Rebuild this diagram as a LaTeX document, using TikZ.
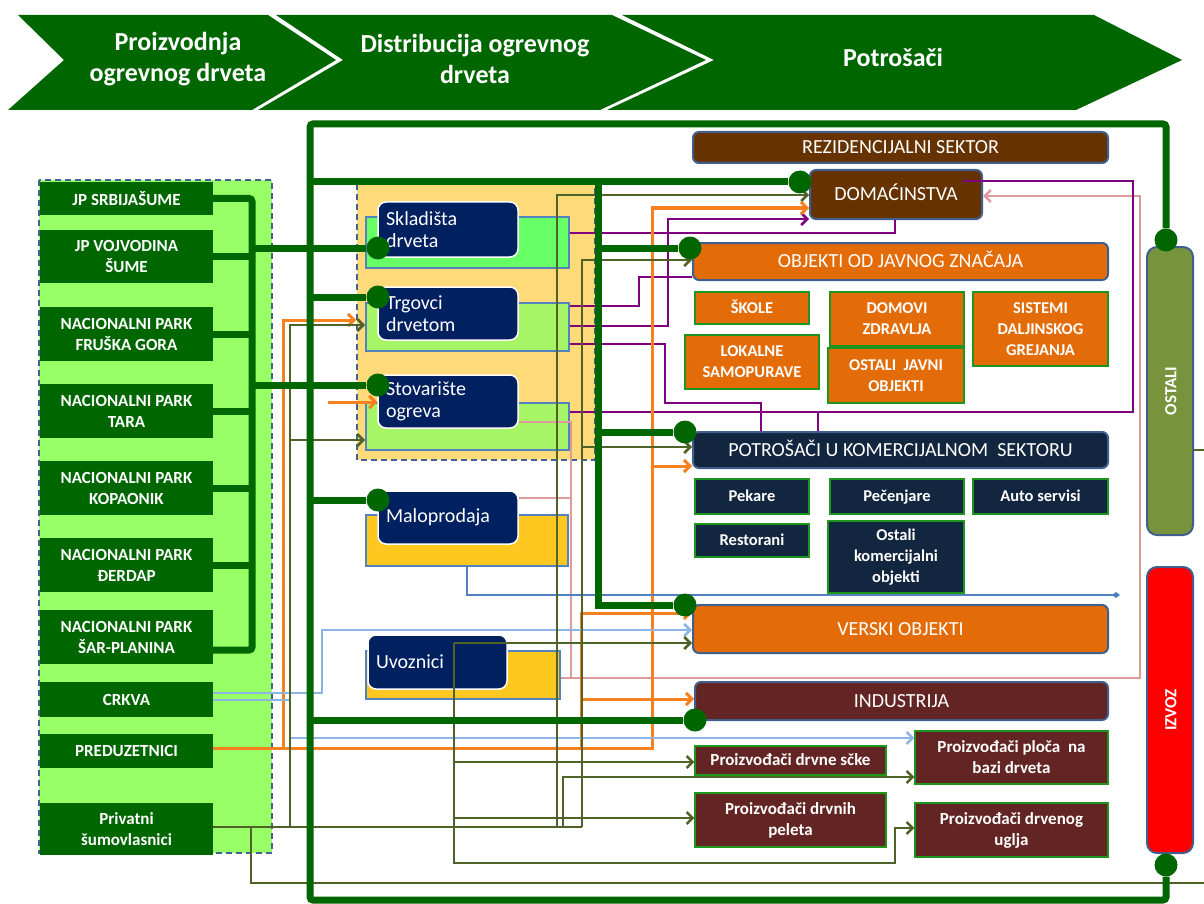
\documentclass[tikz,border=0pt]{standalone}
\usepackage{fontspec}
\setmainfont{Carlito}
\usetikzlibrary{arrows.meta}

\definecolor{hdgreen}{RGB}{0,102,0}
\definecolor{panelgreen}{RGB}{153,255,102}
\definecolor{dashblue}{RGB}{68,97,150}
\definecolor{panelyellow}{RGB}{255,218,120}
\definecolor{brightgreen}{RGB}{102,255,102}
\definecolor{limegreen}{RGB}{166,245,102}
\definecolor{boxblue}{RGB}{84,130,190}
\definecolor{navybox}{RGB}{0,32,96}
\definecolor{goldbox}{RGB}{255,200,32}
\definecolor{resbrown}{RGB}{102,51,0}
\definecolor{puborange}{RGB}{227,108,9}
\definecolor{comnavy}{RGB}{19,38,64}
\definecolor{indred}{RGB}{99,37,35}
\definecolor{ostgreen}{RGB}{119,147,60}
\definecolor{olivew}{RGB}{79,98,40}
\definecolor{purplew}{RGB}{128,0,128}
\definecolor{orangew}{RGB}{247,128,31}
\definecolor{pinkw}{RGB}{222,154,154}
\definecolor{skyw}{RGB}{141,180,226}
\definecolor{steelw}{RGB}{79,129,189}
\definecolor{unitborder}{RGB}{30,150,30}
\definecolor{framebl}{RGB}{65,95,140}

\tikzset{
  >={Straight Barb[length=6pt,width=12pt]},
  stage/.style={text=white, font=\fontsize{26}{31}\selectfont\bfseries, align=center},
  srcbox/.style={fill=hdgreen, text=white, font=\fontsize{17}{21}\selectfont\bfseries,
    align=center, minimum width=173pt, inner sep=0pt},
  storebox/.style={draw=boxblue, line width=2pt, inner sep=0pt},
  traderbox/.style={fill=navybox, draw=white, line width=1.5pt, rounded corners=8pt,
    text=white, font=\fontsize{20}{22}\selectfont, align=left, inner xsep=8pt, inner ysep=0pt},
  sector/.style={draw=framebl, line width=2pt, rounded corners=6pt, text=white,
    font=\fontsize{20}{22}\selectfont, inner sep=0pt, text height=12.5pt, text depth=0pt},
  unit/.style={draw=unitborder, line width=1.2pt, text=white,
    font=\fontsize{16.5}{21}\selectfont\bfseries, align=center, inner sep=0pt},
  unitb/.style={unit, font=\fontsize{16.5}{21}\selectfont\bfseries},
  oneline/.style={text height=10.5pt, text depth=0pt},
  dot/.style={circle, fill=hdgreen, minimum size=23pt, inner sep=0pt},
  trunk/.style={hdgreen, line width=7pt},
  olv/.style={olivew, line width=2.5pt},
  prp/.style={purplew, line width=2.5pt},
  org/.style={orangew, line width=3pt},
  pnk/.style={pinkw, line width=2.5pt},
  sky/.style={skyw, line width=2.5pt},
  stl/.style={steelw, line width=2pt},
  panel/.style={dashblue, dash pattern=on 6pt off 4pt, line width=2pt}
}

\begin{document}
\begin{tikzpicture}[x=1pt,y=-1pt]
\useasboundingbox (0,0) rectangle (1204,904);

% stages
\fill[hdgreen] (18,15) -- (268,15) -- (336,60) -- (252,110) -- (8,110) -- (64,60) -- cycle;
\fill[hdgreen] (276,15) -- (612,15) -- (706,60) -- (600,110) -- (258,110) -- (343,60) -- cycle;
\fill[hdgreen] (622,15) -- (1094,15) -- (1182,60) -- (1076,110) -- (607,110) -- (714,60) -- cycle;
\node[stage] (st1) at (178,59) {Proizvodnja\\ogrevnog drveta};
\node[stage] (st2) at (475,59) {Distribucija ogrevnog\\drveta};
\node[stage] (st3) at (893,57) {Potrošači};

% panels
\draw[panel, fill=panelgreen] (39,180) rectangle (272,853);
\draw[panel, fill=panelyellow] (357,184) rectangle (595,460);

% producers
\node[srcbox, minimum height=33pt] (srb) at (126.5,198.5) {JP SRBIJAŠUME};
\node[srcbox, minimum height=53pt] (voj) at (126.5,256.5) {JP VOJVODINA\\ŠUME};
\node[srcbox, minimum height=54pt] (fru) at (126.5,334) {NACIONALNI PARK\\FRUŠKA GORA};
\node[srcbox, minimum height=54pt] (tar) at (126.5,411) {NACIONALNI PARK\\TARA};
\node[srcbox, minimum height=54pt] (kop) at (126.5,488) {NACIONALNI PARK\\KOPAONIK};
\node[srcbox, minimum height=54pt] (der) at (126.5,565) {NACIONALNI PARK\\ĐERDAP};
\node[srcbox, minimum height=54pt] (sar) at (126.5,637) {NACIONALNI PARK\\ŠAR-PLANINA};
\node[srcbox, minimum height=35pt] (crk) at (126.5,699.5) {CRKVA};
\node[srcbox, minimum height=34pt] (pre) at (126.5,751) {PREDUZETNICI};
\node[srcbox, minimum height=52pt] (priv) at (126.5,829) {Privatni\\šumovlasnici};

% distributors
\node[storebox, fill=brightgreen, minimum width=203pt, minimum height=51pt] (sklg) at (467.5,242.5) {};
\node[traderbox, minimum height=55pt, text width=124pt] (skl) at (448,229.5) {Skladišta\\drveta};
\node[storebox, fill=limegreen, minimum width=203pt, minimum height=48pt] (trgg) at (467.5,327) {};
\node[traderbox, minimum height=53pt, text width=124pt] (trg) at (448,313.5) {Trgovci\\drvetom};
\node[storebox, fill=limegreen, minimum width=203pt, minimum height=47pt] (stog) at (467.5,426.5) {};
\node[traderbox, minimum height=53pt, text width=124pt] (sto) at (448,401.5) {Stovarište\\ogreva};
\node[storebox, fill=goldbox, minimum width=202pt, minimum height=51pt] (malg) at (467,540.5) {};
\node[traderbox, minimum height=53pt, text width=124pt] (mal) at (448,517.5) {Maloprodaja};
\node[storebox, fill=goldbox, minimum width=194pt, minimum height=48pt] (uvog) at (463,675) {};
\node[traderbox, minimum height=54pt, text width=123pt] (uvo) at (437.5,662) {Uvoznici};

% consumers
\node[sector, fill=resbrown, minimum width=415pt, minimum height=31pt] (rez) at (900.5,147.5) {REZIDENCIJALNI SEKTOR};
\node[sector, fill=resbrown, minimum width=172pt, minimum height=49pt] (dom) at (896,194.5) {DOMAĆINSTVA};
\node[sector, fill=puborange, minimum width=415pt, minimum height=37pt] (obj) at (900.5,261.5) {OBJEKTI OD JAVNOG ZNAČAJA};
\node[unit, oneline, fill=puborange, minimum width=114pt, minimum height=32pt] (sko) at (752,308) {ŠKOLE};
\node[unit, fill=puborange, minimum width=134pt, minimum height=54pt] (dzr) at (897,319) {DOMOVI\\ZDRAVLJA};
\node[unit, fill=puborange, minimum width=135pt, minimum height=74pt] (sdg) at (1040.5,329) {SISTEMI\\DALJINSKOG\\GREJANJA};
\node[unit, fill=puborange, minimum width=134pt, minimum height=54pt] (lok) at (752,362) {LOKALNE\\SAMOPURAVE};
\node[unit, fill=puborange, minimum width=136pt, minimum height=55pt] (oja) at (896,375.5) {OSTALI~ JAVNI\\OBJEKTI};
\node[sector, fill=comnavy, minimum width=415pt, minimum height=36pt] (kom) at (900.5,450) {POTROŠAČI U KOMERCIJALNOM~ SEKTORU};
\node[unitb, oneline, fill=comnavy, minimum width=114pt, minimum height=35pt] (pek) at (752,496.5) {Pekare};
\node[unitb, oneline, fill=comnavy, minimum width=134pt, minimum height=35pt] (pec) at (897,496.5) {Pečenjare};
\node[unitb, oneline, fill=comnavy, minimum width=135pt, minimum height=35pt] (aut) at (1040.5,496.5) {Auto servisi};
\node[unitb, oneline, fill=comnavy, minimum width=114pt, minimum height=33pt] (res) at (752,540.5) {Restorani};
\node[unitb, fill=comnavy, minimum width=136pt, minimum height=72pt] (okm) at (896,557) {Ostali\\komercijalni\\objekti};
\node[sector, fill=puborange, minimum width=415pt, minimum height=48pt] (ver) at (900.5,629) {VERSKI OBJEKTI};
\node[sector, fill=indred, minimum width=413pt, minimum height=38pt] (ind) at (901.5,701) {INDUSTRIJA};
\node[unitb, oneline, fill=indred, font=\fontsize{17}{21}\selectfont\bfseries, minimum width=191pt, minimum height=29pt] (sck) at (790.5,760.5) {Proizvođači drvne sčke};
\node[unitb, fill=indred, font=\fontsize{17}{21}\selectfont\bfseries, minimum width=193pt, minimum height=53pt] (plo) at (1011.5,757.5) {Proizvođači ploča~ na\\bazi drveta};
\node[unitb, fill=indred, font=\fontsize{17}{21}\selectfont\bfseries, minimum width=191pt, minimum height=54pt] (pel) at (790.5,820) {Proizvođači drvnih\\peleta};
\node[unitb, fill=indred, font=\fontsize{17}{21}\selectfont\bfseries, minimum width=193pt, minimum height=54pt] (ugl) at (1011.5,830) {Proizvođači drvenog\\uglja};
\node[sector, fill=ostgreen, rounded corners=10pt, rotate=90, font=\fontsize{17}{18}\selectfont\bfseries,
  minimum width=288pt, minimum height=46pt] (ost) at (1170,391) {OSTALI};
\node[sector, fill=red, rounded corners=10pt, rotate=90, font=\fontsize{17}{18}\selectfont\bfseries,
  minimum width=286pt, minimum height=46pt] (izv) at (1170,710) {IZVOZ};

% thin flows
\draw[pnk] (sto.east |- 0,422) -- (571,422) -- (571,678);
\draw[pnk] (mal.east |- 0,498) -- (571,498);
\draw[pnk,->] (uvog.east |- 0,678) -- (1140,678) -- (1140,196) -- (dom.east |- 0,196);

\draw[prp] (sklg.east |- 0,233) -- (895,233) -- (dom.south -| 895,0);
\draw[prp] (trgg.east |- 0,306) -- (639,306) -- (639,277) -- (obj.west |- 0,277);
\draw[prp,->] (trgg.east |- 0,326) -- (668,326) -- (668,219) -- (dom.west |- 0,219);
\draw[prp] (trgg.east |- 0,344) -- (665,344) -- (665,403) -- (761,403) -- (kom.north -| 761,0);
\draw[prp] (stog.east |- 0,412) -- (1133,412) -- (1133,181) -- (963,181);
\draw[prp] (818,412) -- (kom.north -| 818,0);

\draw[org,->] (pre.east |- 0,748) -- (652,748) -- (652,208) -- (dom.west |- 0,208);
\draw[org,->] (652,466) -- (kom.west |- 0,466);
\draw[org,->] (283,748) -- (283,320) -- (356,320);
\draw[org,->] (581,748) -- (581,613) -- (ver.west |- 0,613);
\draw[org,->] (581,699) -- (ind.west |- 0,699);
\coordinate (ofree) at (328,402);
\draw[org,->] (ofree) -- (sto.west |- ofree);

\draw[sky,->] (crk.east |- 0,693) -- (322,693) -- (322,630) -- (ver.west |- 0,630);
\draw[sky,->] (crk.east |- 0,700) -- (290,700) -- (290,738) -- (plo.west |- 0,738);

\draw[stl,-{Diamond[length=8pt,width=6pt]}] (malg.south) -- (467,595) -- (1120,595);

\draw[olv] (priv.east |- 0,827) -- (582,827);
\draw[olv,->] (290,827) -- (290,325) -- (trgg.west |- 0,325);
\draw[olv,->] (290,440) -- (stog.west |- 0,440);
\draw[olv,->] (557,827) -- (557,195) -- (dom.west |- 0,195);
\draw[olv,->] (582,827) -- (582,260) -- (obj.west |- 0,260);
\draw[olv,->] (582,447) -- (kom.west |- 0,447);
\draw[olv,->] (563,827) -- (563,777) -- (plo.west |- 0,777);
\draw[olv] (251,827) -- (251,883) -- (1204,883);
\draw[olv,->] (454,643) -- (ver.west |- 0,643);
\draw[olv,->] (454,643) -- (454,863) -- (895,863) -- (895,828) -- (ugl.west |- 0,828);
\draw[olv,->] (454,762) -- (sck.west |- 0,762);
\draw[olv,->] (454,818) -- (pel.west |- 0,818);
\draw[olv] (1193,450) -- (1204,450);

% trunk lines
\node[dot] (dskl) at (378,248) {};
\node[dot] (dtrg) at (378,297) {};
\node[dot] (dsto) at (378,385) {};
\node[dot] (dmal) at (378,500) {};
\node[dot] (ddom) at (800,182) {};
\node[dot] (dobj) at (690,248) {};
\node[dot] (dkom) at (685,432) {};
\node[dot] (dver) at (685,605) {};
\node[dot] (dind) at (695,720) {};
\node[dot] (dost) at (1166,240) {};
\node[dot] (dizv) at (1166,865) {};
\coordinate (busx) at (252,0);

\draw[trunk, rounded corners=3pt] (srb.east) -- (busx |- srb.east) -- (252,650) -- (sar.east |- 0,650);
\foreach \n in {voj,fru,tar,kop,der}
  \draw[trunk] (\n.east) -- (\n.east -| busx);
\draw[trunk] (busx |- dskl) -- (dskl);
\draw[trunk] (busx |- dsto) -- (dsto);
\draw[trunk, rounded corners=3pt] (dizv) -- (1166,900) -- (310,900) -- (310,124) -- (1166,124) -- (dost);
\draw[trunk] (310,182) -- (ddom);
\draw[trunk] (598,182) -- (598,605) -- (dver);
\draw[trunk] (598,248) -- (dobj);
\draw[trunk] (598,432) -- (dkom);
\draw[trunk] (310,297) -- (dtrg);
\draw[trunk] (310,500) -- (dmal);
\draw[trunk] (310,720) -- (dind);
\end{tikzpicture}
\end{document}
